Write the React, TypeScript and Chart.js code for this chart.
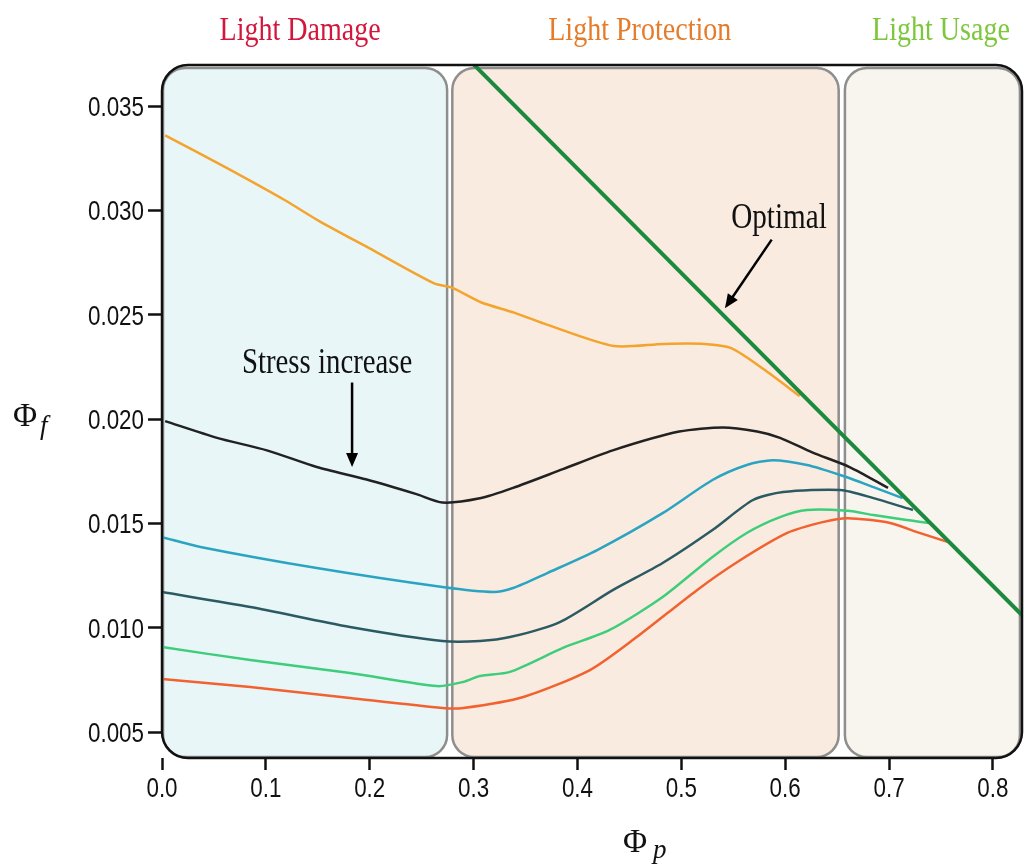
import React, { useEffect, useRef } from "react";
import { Chart, registerables } from "chart.js";

Chart.register(...registerables);

// ---- data ----
const optimalX = [0.3, 0.83];
const optimalY = [0.037, 0.0105];

const orangeX = [0.003, 0.06, 0.118, 0.151, 0.199, 0.262, 0.279, 0.307, 0.339, 0.372, 0.435, 0.483, 0.522, 0.548, 0.579, 0.614];
const orangeY = [0.0336, 0.0321, 0.0305, 0.0295, 0.0282, 0.0265, 0.0263, 0.0256, 0.0251, 0.0245, 0.0235, 0.0236, 0.0236, 0.0234, 0.0224, 0.0211];

const blackX = [0.003, 0.053, 0.101, 0.149, 0.197, 0.245, 0.270, 0.306, 0.338, 0.386, 0.434, 0.498, 0.540, 0.573, 0.595, 0.626, 0.662, 0.699];
const blackY = [0.0199, 0.0191, 0.0185, 0.0177, 0.0171, 0.0164, 0.0160, 0.0162, 0.0167, 0.0176, 0.0185, 0.0194, 0.0196, 0.0194, 0.0191, 0.0184, 0.0177, 0.0167];

const blueX = [0.0, 0.037, 0.149, 0.270, 0.319, 0.338, 0.371, 0.419, 0.482, 0.530, 0.563, 0.588, 0.621, 0.653, 0.685, 0.713];
const blueY = [0.01434, 0.01387, 0.01286, 0.01195, 0.01171, 0.0119, 0.01262, 0.01372, 0.01549, 0.01708, 0.0178, 0.01803, 0.0178, 0.01732, 0.01674, 0.01621];

const slateX = [0.0, 0.085, 0.181, 0.270, 0.306, 0.335, 0.383, 0.434, 0.482, 0.530, 0.569, 0.598, 0.653, 0.685, 0.723];
const slateY = [0.01171, 0.01099, 0.01003, 0.00936, 0.00936, 0.00955, 0.01027, 0.0118, 0.0131, 0.01468, 0.01612, 0.0165, 0.0166, 0.01621, 0.01564];

const lgreenX = [0.0, 0.085, 0.181, 0.265, 0.290, 0.306, 0.335, 0.386, 0.431, 0.482, 0.530, 0.563, 0.595, 0.621, 0.660, 0.685, 0.717, 0.739];
const lgreenY = [0.00907, 0.00845, 0.00783, 0.0072, 0.0074, 0.00768, 0.00788, 0.00903, 0.00989, 0.01147, 0.01339, 0.01454, 0.0153, 0.01564, 0.0156, 0.0154, 0.01516, 0.01502];

const redX = [0.0, 0.085, 0.181, 0.270, 0.290, 0.348, 0.412, 0.457, 0.515, 0.554, 0.602, 0.636, 0.660, 0.701, 0.727, 0.757];
const redY = [0.00754, 0.00716, 0.00663, 0.00615, 0.00615, 0.00668, 0.00797, 0.00955, 0.0118, 0.01315, 0.01454, 0.01506, 0.01525, 0.01502, 0.01458, 0.0141];

const xTickValues = [0, 0.1, 0.2, 0.3, 0.4, 0.5, 0.6, 0.7, 0.8];
const yTickValues = [0.005, 0.01, 0.015, 0.02, 0.025, 0.03, 0.035];

const regionNames = ["Light Damage", "Light Protection", "Light Usage"];
const regionStart = [0.001, 0.2795, 0.6575];
const regionEnd = [0.2745, 0.6515, 0.826];
const regionFill = ["#e8f6f8", "#f9ebe0", "#f8f5ee"];
const regionTitleColor = ["#d3163c", "#e47c2c", "#7cc73b"];
const regionTitleX = [0.133, 0.46, 0.75];

const pts = (xs: number[], ys: number[]) => xs.map((x, i) => ({ x, y: ys[i] }));

const SERIF = "'Liberation Serif', 'DejaVu Serif', serif";
const SANS = "'Liberation Sans', Arial, sans-serif";

function drawText(ctx: CanvasRenderingContext2D, text: string, x: number, y: number, font: string, color: string, sx: number, align: CanvasTextAlign = "center") {
  ctx.save();
  ctx.translate(x, y);
  ctx.scale(sx, 1);
  ctx.font = font;
  ctx.fillStyle = color;
  ctx.textAlign = align;
  ctx.textBaseline = "alphabetic";
  ctx.fillText(text, 0, 0);
  ctx.restore();
}

function drawArrow(ctx: CanvasRenderingContext2D, x1: number, y1: number, x2: number, y2: number) {
  const ang = Math.atan2(y2 - y1, x2 - x1);
  const hl = 14, hw = 6;
  ctx.save();
  ctx.strokeStyle = "#000";
  ctx.fillStyle = "#000";
  ctx.lineWidth = 2.5;
  ctx.beginPath();
  ctx.moveTo(x1, y1);
  ctx.lineTo(x2 - Math.cos(ang) * hl * 0.8, y2 - Math.sin(ang) * hl * 0.8);
  ctx.stroke();
  ctx.beginPath();
  ctx.moveTo(x2, y2);
  ctx.lineTo(x2 - Math.cos(ang) * hl - Math.sin(ang) * hw, y2 - Math.sin(ang) * hl + Math.cos(ang) * hw);
  ctx.lineTo(x2 - Math.cos(ang) * hl + Math.sin(ang) * hw, y2 - Math.sin(ang) * hl - Math.cos(ang) * hw);
  ctx.closePath();
  ctx.fill();
  ctx.restore();
}

function roundRect(ctx: CanvasRenderingContext2D, x: number, y: number, w: number, h: number, r: number) {
  ctx.beginPath();
  ctx.moveTo(x + r, y);
  ctx.lineTo(x + w - r, y);
  ctx.arcTo(x + w, y, x + w, y + r, r);
  ctx.lineTo(x + w, y + h - r);
  ctx.arcTo(x + w, y + h, x + w - r, y + h, r);
  ctx.lineTo(x + r, y + h);
  ctx.arcTo(x, y + h, x, y + h - r, r);
  ctx.lineTo(x, y + r);
  ctx.arcTo(x, y, x + r, y, r);
  ctx.closePath();
}

const decorPlugin = {
  id: "decor",
  beforeDatasetsDraw(chart: any) {
    const { ctx, chartArea, scales } = chart;
    const xs = scales.x;
    ctx.save();
    for (let i = 0; i < regionNames.length; i++) {
      const l = xs.getPixelForValue(regionStart[i]);
      const r = xs.getPixelForValue(regionEnd[i]);
      const t = chartArea.top + 3;
      const b = chartArea.bottom - 1;
      roundRect(ctx, l, t, r - l, b - t, 22);
      ctx.fillStyle = regionFill[i];
      ctx.fill();
      ctx.strokeStyle = "#8e8e8e";
      ctx.lineWidth = 2.5;
      ctx.stroke();
    }
    ctx.restore();
  },
  afterDraw(chart: any) {
    const { ctx, chartArea, scales } = chart;
    const xs = scales.x, ys = scales.y;
    // frame
    ctx.save();
    roundRect(ctx, chartArea.left, chartArea.top, chartArea.right - chartArea.left, chartArea.bottom - chartArea.top, 26);
    ctx.strokeStyle = "#111";
    ctx.lineWidth = 2.5;
    ctx.stroke();
    ctx.restore();
    // tick labels (narrow style)
    xs.ticks.forEach((t: any) => {
      drawText(ctx, Number(t.value).toFixed(1), xs.getPixelForValue(t.value), chartArea.bottom + 39, `28px ${SANS}`, "#111", 0.8);
    });
    ys.ticks.forEach((t: any) => {
      drawText(ctx, Number(t.value).toFixed(3), chartArea.left - 18, ys.getPixelForValue(t.value) + 10, `28px ${SANS}`, "#111", 0.8, "right");
    });
    // region titles
    for (let i = 0; i < regionNames.length; i++) {
      drawText(ctx, regionNames[i], xs.getPixelForValue(regionTitleX[i]), 40, `33px ${SERIF}`, regionTitleColor[i], 0.85);
    }
    // annotations
    drawText(ctx, "Optimal", xs.getPixelForValue(0.594), ys.getPixelForValue(0.02914), `36px ${SERIF}`, "#111", 0.81);
    drawArrow(ctx, xs.getPixelForValue(0.587), ys.getPixelForValue(0.0286), xs.getPixelForValue(0.542), ys.getPixelForValue(0.02531));
    drawText(ctx, "Stress increase", xs.getPixelForValue(0.159), ys.getPixelForValue(0.0222), `36px ${SERIF}`, "#111", 0.8);
    drawArrow(ctx, xs.getPixelForValue(0.183), ys.getPixelForValue(0.02175), xs.getPixelForValue(0.183), ys.getPixelForValue(0.0177));
    // axis titles
    drawText(ctx, "Φ", 13, 426, `33px ${SERIF}`, "#111", 1, "left");
    drawText(ctx, "f", 40, 434, `italic 27px ${SERIF}`, "#111", 1, "left");
    drawText(ctx, "Φ", 623, 852, `33px ${SERIF}`, "#111", 1, "left");
    drawText(ctx, "p", 653, 858, `italic 27px ${SERIF}`, "#111", 1, "left");
  },
};

export default function App() {
  const ref = useRef<HTMLCanvasElement | null>(null);
  useEffect(() => {
    if (!ref.current) return;
    const line = (data: any, color: string, width: number) => ({
      data,
      borderColor: color,
      backgroundColor: color,
      borderWidth: width,
      pointRadius: 0,
      tension: 0.25,
      fill: false,
    });
    const chart = new Chart(ref.current, {
      type: "line",
      data: {
        datasets: [
          line(pts(optimalX, optimalY), "#1b8a3f", 4),
          line(pts(orangeX, orangeY), "#f4a42c", 2.5),
          line(pts(blackX, blackY), "#222222", 2.5),
          line(pts(blueX, blueY), "#2ba4c2", 2.5),
          line(pts(slateX, slateY), "#2c5a63", 2.5),
          line(pts(lgreenX, lgreenY), "#3ecd7a", 2.5),
          line(pts(redX, redY), "#f26230", 2.5),
        ] as any,
      },
      options: {
        responsive: false,
        animation: false,
        layout: { padding: { left: 0, right: 2, top: 65, bottom: 0 } },
        plugins: { legend: { display: false }, tooltip: { enabled: false } },
        scales: {
          x: {
            type: "linear",
            min: 0,
            max: 0.828,
            afterFit: (s: any) => { s.height = 109; },
            afterBuildTicks: (s: any) => { s.ticks = xTickValues.map((v) => ({ value: v })); },
            border: { display: false },
            grid: { drawOnChartArea: false, drawTicks: true, tickLength: 12, tickWidth: 2.5, tickColor: "#111" },
            ticks: {
              padding: 3,
              color: "rgba(0,0,0,0)",
              font: { family: SANS, size: 24 },
              callback: (v: any) => Number(v).toFixed(1),
            },
          },
          y: {
            type: "linear",
            min: 0.003754,
            max: 0.03697,
            afterFit: (s: any) => { s.width = 162; },
            afterBuildTicks: (s: any) => { s.ticks = yTickValues.map((v) => ({ value: v })); },
            border: { display: false },
            grid: { drawOnChartArea: false, drawTicks: true, tickLength: 14, tickWidth: 2.5, tickColor: "#111" },
            ticks: {
              padding: 4,
              color: "rgba(0,0,0,0)",
              font: { family: SANS, size: 24 },
              callback: (v: any) => Number(v).toFixed(3),
            },
          },
        },
      } as any,
      plugins: [decorPlugin],
    });
    return () => chart.destroy();
  }, []);
  return (
    <canvas
      ref={ref}
      width={1024}
      height={867}
      style={{ position: "absolute", left: 0, top: 0, width: 1024, height: 867, display: "block" }}
    />
  );
}
